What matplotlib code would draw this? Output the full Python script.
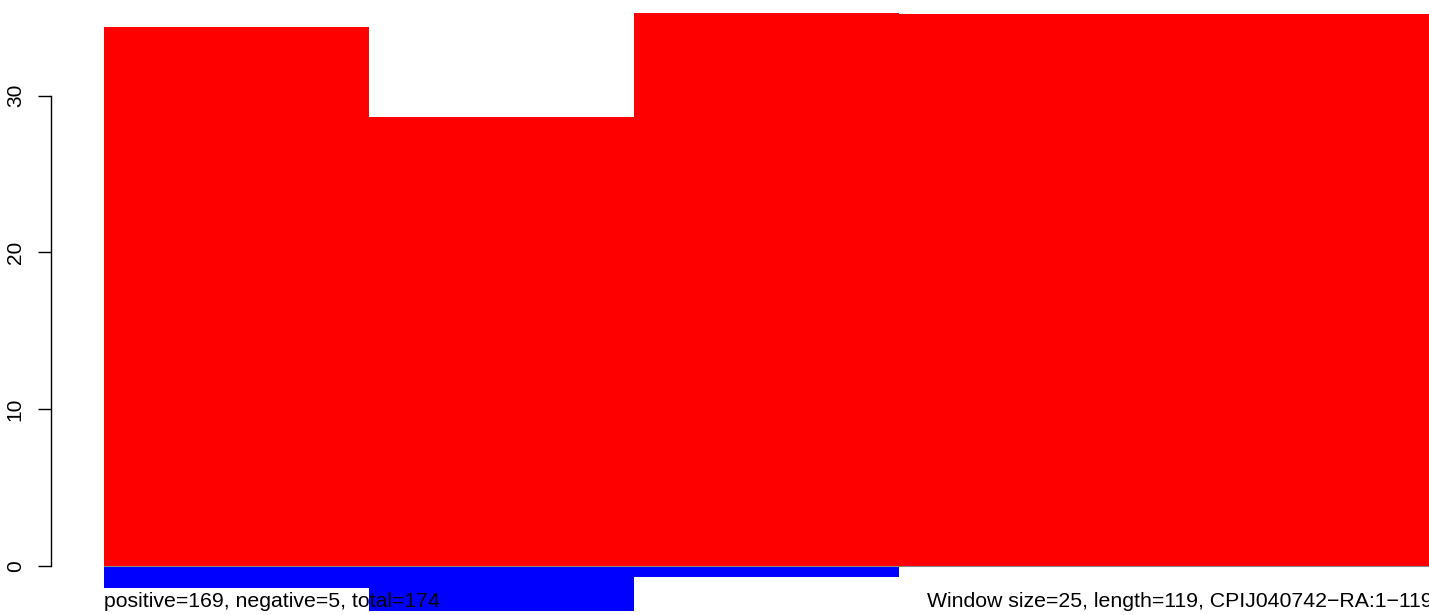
import numpy as np
import matplotlib
matplotlib.use("Agg")
import matplotlib.pyplot as plt

plt.rcParams['font.family'] = ['Liberation Sans', 'DejaVu Sans']

# window start/end positions along the sequence
win_start = [0, 24, 48, 72]
win_end = [24, 48, 72, 120]
pos_vals = [34.38, 28.66, 35.28, 35.21]
neg_vals = [-1.40, -2.89, -0.70, 0.0]
yticks = [0, 10, 20, 30]

left_text = "positive=169, negative=5, total=174"
right_text = "Window size=25, length=119, CPIJ040742\u2212RA:1\u2212119"

W, H = 1429, 615
fig = plt.figure(figsize=(W / 100, H / 100), dpi=100)
ax = fig.add_axes([104 / W, 0, 1 - 104 / W, 1])

widths = np.array(win_end) - np.array(win_start)
ax.bar(win_start, pos_vals, width=widths, align='edge', color='#ff0000', linewidth=0)
ax.bar(win_start, neg_vals, width=widths, align='edge', color='#0000ff', linewidth=0)
ax.axhline(0, color='#888888', lw=0.8, zorder=3)

# pixel scale: 0 at y=565.7, 30 at y=95.7
ppu = (565.7 - 95.7) / 30
ax.set_ylim(-(H - 565.7) / ppu, 565.7 / ppu)
ax.set_xlim(0, 120)

for s in ['top', 'right', 'bottom']:
    ax.spines[s].set_visible(False)
ax.spines['left'].set_position(('outward', 53.3 * 0.72))
ax.spines['left'].set_bounds(0, 30)
ax.spines['left'].set_linewidth(1.0)
ax.set_xticks([])
ax.set_yticks(yticks)
ax.tick_params(axis='y', length=13.4 * 0.72, width=1.0, pad=9, labelsize=15)
for lab in ax.get_yticklabels():
    lab.set_rotation(90)
    lab.set_va('center')
    lab.set_ha('right')
ax.patch.set_alpha(0)

fig.text(104 / W, (H - 607) / H, left_text, fontsize=15.3, va='baseline', ha='left')
fig.text(1433 / W, (H - 607) / H, right_text, fontsize=15.3, va='baseline', ha='right')

fig.savefig("out.png", dpi=100)
